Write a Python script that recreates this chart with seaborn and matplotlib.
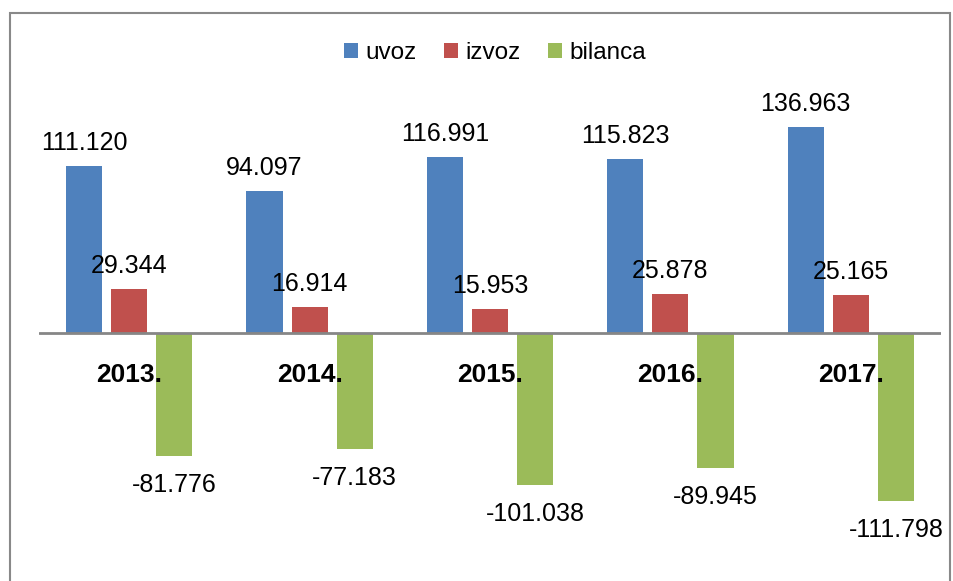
import matplotlib
matplotlib.use("Agg")
import matplotlib.pyplot as plt
from matplotlib.patches import Rectangle
import pandas as pd
import seaborn as sns

# data (values in thousands, shown with a dot separator)
years = ["2013.", "2014.", "2015.", "2016.", "2017."]
uvoz = [111.120, 94.097, 116.991, 115.823, 136.963]
izvoz = [29.344, 16.914, 15.953, 25.878, 25.165]
bilanca = [-81.776, -77.183, -101.038, -89.945, -111.798]
series_names = ["uvoz", "izvoz", "bilanca"]
colors = ["#4F81BD", "#C0504D", "#9BBB59"]

rows = []
for name, vals in zip(series_names, [uvoz, izvoz, bilanca]):
    for y, v in zip(years, vals):
        rows.append({"year": y, "series": name, "value": v})
df = pd.DataFrame(rows)

sns.set_theme(style="white")
plt.rcParams["font.family"] = ["Liberation Sans", "DejaVu Sans"]
plt.rcParams["text.color"] = "black"
plt.rcParams["xtick.color"] = "black"

W, H = 954, 581
fig = plt.figure(figsize=(W / 100, H / 100), dpi=100)
ax = fig.add_axes([39 / W, 21 / H, 902 / W, 500 / H])

sns.barplot(
    data=df, x="year", y="value", hue="series",
    palette=colors, hue_order=series_names, order=years,
    width=0.75, gap=0.2, linewidth=0, saturation=1, ax=ax,
)

ax.set_xlim(-0.5, 4.5)
ax.set_ylim(-151, 181.5)
ax.axhline(0, color="#868686", linewidth=2, zorder=3)
for s in ax.spines.values():
    s.set_visible(False)
# year labels sit just under the zero line
ax.spines["bottom"].set_position(("data", 0))
ax.set_yticks([])
ax.set_xlabel("")
ax.set_ylabel("")
ax.set_axisbelow(False)
ax.tick_params(axis="x", length=0, pad=22, labelcolor="black")
for lbl in ax.get_xticklabels():
    lbl.set_fontweight("bold")
    lbl.set_fontsize(19)
    lbl.set_zorder(5)

# value labels
for i, cont in enumerate(ax.containers):
    if i < 2:
        ax.bar_label(cont, fmt="{:.3f}", padding=8, fontsize=18, color="black")
    else:
        ax.bar_label(cont, fmt="{:.3f}", padding=12, fontsize=18, color="black")

handles, labels = ax.get_legend_handles_labels()
ax.legend(
    handles, labels, loc="center", bbox_to_anchor=(495 / W, 1 - 53 / H),
    bbox_transform=fig.transFigure, ncol=3, frameon=False, fontsize=17.5,
    handlelength=0.6, handleheight=0.6, handletextpad=0.3, columnspacing=1.1,
    labelcolor="black",
)

# outer chart frame
fig.patches.append(Rectangle((10 / W, -0.05), 940 / W, 1.05 - 13 / H,
                             transform=fig.transFigure, fill=False,
                             edgecolor="#898989", linewidth=1.5))

fig.savefig("out.png", dpi=100)
